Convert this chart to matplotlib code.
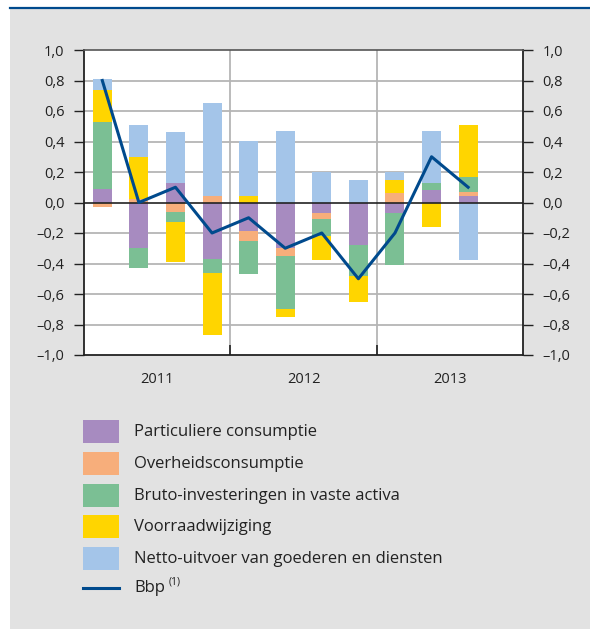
import matplotlib
matplotlib.use("Agg")
import matplotlib.pyplot as plt
from matplotlib.patches import Rectangle
from matplotlib.lines import Line2D
import numpy as np

plt.rcParams['font.family'] = ['Open Sans', 'DejaVu Sans']

# Bijdragen aan de bbp-groei per kwartaal (2011 K1 t/m 2013 K3)
kwartalen = ['2011K1', '2011K2', '2011K3', '2011K4',
             '2012K1', '2012K2', '2012K3', '2012K4',
             '2013K1', '2013K2', '2013K3']
particulier = [0.09, -0.30, 0.13, -0.37, -0.19, -0.30, -0.07, -0.28, -0.07, 0.08, 0.04]
overheid = [-0.03, 0.02, -0.06, 0.04, -0.06, -0.05, -0.04, 0.0, 0.06, 0.0, 0.03]
investering = [0.44, -0.13, -0.07, -0.09, -0.22, -0.35, -0.11, -0.20, -0.34, 0.05, 0.10]
voorraad = [0.21, 0.28, -0.26, -0.41, 0.04, -0.05, -0.16, -0.17, 0.09, -0.16, 0.34]
netto_uitvoer = [0.07, 0.21, 0.33, 0.61, 0.36, 0.47, 0.20, 0.15, 0.05, 0.34, -0.38]
bbp = [0.8, 0.0, 0.1, -0.2, -0.1, -0.3, -0.2, -0.5, -0.2, 0.3, 0.1]
jaren = ['2011', '2012', '2013']

namen = ['Particuliere consumptie', 'Overheidsconsumptie',
         'Bruto-investeringen in vaste activa', 'Voorraadwijziging',
         'Netto-uitvoer van goederen en diensten']
reeksen = [particulier, overheid, investering, voorraad, netto_uitvoer]
kleuren = ['#a78bc0', '#f7ae7b', '#7bbf94', '#ffd500', '#a4c5e9']
lijnkleur = '#004a8d'
grijs = '#e2e2e2'

W, H = 590, 629
fig = plt.figure(figsize=(W / 100, H / 100), dpi=100)
fig.patch.set_facecolor('white')

# grijze achtergrond + blauwe lijn bovenaan
fig.add_artist(Rectangle((10 / W, 0), 1, 1 - 9 / H, transform=fig.transFigure,
                         facecolor=grijs, edgecolor='none', zorder=0))
fig.add_artist(Line2D([10 / W, 1], [1 - 8 / H, 1 - 8 / H], transform=fig.transFigure,
                      color=lijnkleur, lw=1.6, zorder=1))

ax = fig.add_axes([84 / W, 1 - 355 / H, 439 / W, 305 / H])
ax.set_facecolor('white')

x = np.arange(len(kwartalen))
pos = np.zeros(len(x))
neg = np.zeros(len(x))
for waarden, kleur in zip(reeksen, kleuren):
    v = np.array(waarden)
    onder = np.where(v >= 0, pos, neg)
    ax.bar(x, v, width=0.52, bottom=onder, color=kleur, zorder=3)
    pos = pos + np.where(v >= 0, v, 0)
    neg = neg + np.where(v < 0, v, 0)

ax.plot(x, bbp, color=lijnkleur, lw=2.2, zorder=5)

ax.set_xlim(-0.5, 11.5)
ax.set_ylim(-1.0, 1.0)
yt = np.round(np.arange(-1.0, 1.01, 0.2), 1)
ax.set_yticks(yt)
lab = [('%.1f' % t).replace('.', ',').replace('-', '\u2013') for t in yt]
lab = ['0,0' if l == '\u20130,0' else l for l in lab]
ax.set_yticklabels(lab)
ax.tick_params(axis='y', which='both', direction='out', length=7, width=1,
               labelsize=10.5, colors='#222222', left=True, right=True,
               labelleft=True, labelright=True, pad=6)
ax.tick_params(axis='y', labelright=True, pad=7)

for t in yt:
    if abs(t) < 1e-9:
        ax.axhline(0, color='#222222', lw=1.2, zorder=4)
    elif abs(t) < 0.99:
        ax.axhline(t, color='#b5b5b5', lw=1.3, zorder=1)

ax.set_xticks([3.5, 7.5])
ax.set_xticklabels([])
ax.tick_params(axis='x', which='major', direction='in', length=7, width=1.2, color='#222222')
for s in [3.5, 7.5]:
    ax.axvline(s, color='#b5b5b5', lw=1.3, zorder=1)
ax.set_xticks([1.5, 5.5, 9.5], minor=True)
ax.set_xticklabels(jaren, minor=True)
ax.tick_params(axis='x', which='minor', length=0, labelsize=10.5, colors='#222222', pad=12)

for kant in ['left', 'right', 'bottom']:
    ax.spines[kant].set_color('#222222')
    ax.spines[kant].set_linewidth(1.3)
ax.spines['top'].set_color('#555555')
ax.spines['top'].set_linewidth(1.2)

# legenda
rij_y = [420, 452, 484, 515, 547]
for naam, kleur, y in zip(namen, kleuren, rij_y):
    fig.add_artist(Rectangle((83 / W, 1 - (y + 23) / H), 36 / W, 23 / H,
                             transform=fig.transFigure, facecolor=kleur, edgecolor='none'))
    fig.text(134 / W, 1 - (y + 12) / H, naam, fontsize=12, color='#222222', va='center')
fig.add_artist(Line2D([83 / W, 119 / W], [1 - 588 / H, 1 - 588 / H],
                      transform=fig.transFigure, color=lijnkleur, lw=2.2))
fig.text(134 / W, 1 - 588 / H, 'Bbp', fontsize=12, color='#222222', va='center')
fig.text(169 / W, 1 - 582 / H, '(1)', fontsize=7.5, color='#222222', va='center')

fig.savefig('out.png', dpi=100)
